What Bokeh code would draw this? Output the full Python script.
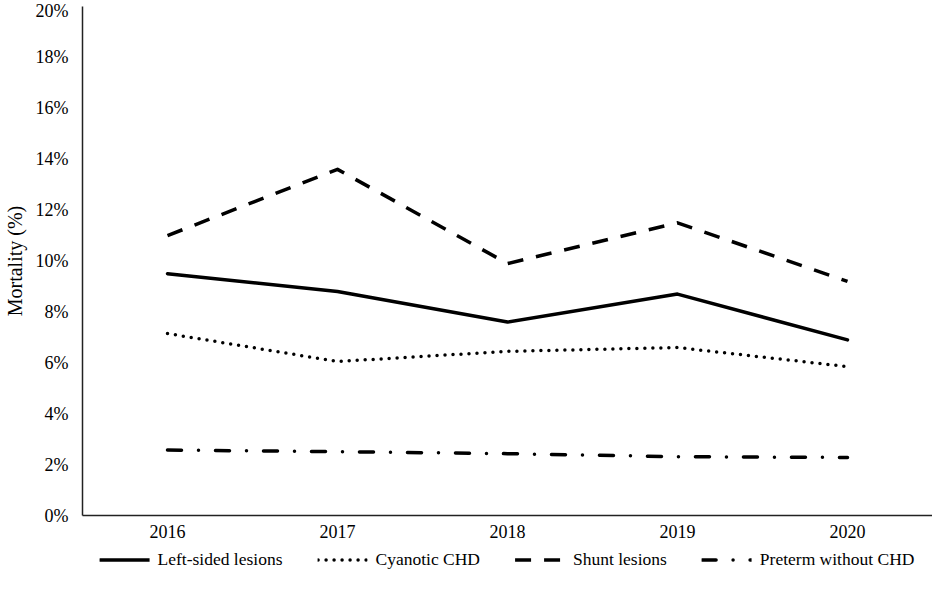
from bokeh.plotting import figure
from bokeh.layouts import column
from bokeh.models import (FixedTicker, PrintfTickFormatter, Range1d, Legend, LegendItem,
                          FactorRange)
from bokeh.embed import file_html
from bokeh.resources import INLINE

years = ["2016", "2017", "2018", "2019", "2020"]
left_sided = [9.5, 8.8, 7.6, 8.7, 6.9]
cyanotic = [7.15, 6.05, 6.45, 6.6, 5.85]
shunt = [11.0, 13.6, 9.9, 11.5, 9.2]
preterm = [2.57, 2.51, 2.43, 2.31, 2.28]
series_names = ["Left-sided lesions", "Cyanotic CHD", "Shunt lesions", "Preterm without CHD"]
y_ticks = [0, 2, 4, 6, 8, 10, 12, 14, 16, 18, 20]

FONT = "Liberation Serif"
series = [left_sided, cyanotic, shunt, preterm]
styles = [
    dict(line_dash="solid", line_cap="round"),
    dict(line_dash="0 8", line_cap="round"),
    dict(line_dash="16 13", line_cap="butt"),
    dict(line_dash="14 17 0 17", line_cap="round"),
]

p = figure(width=932, height=545, x_range=FactorRange(factors=years),
           y_range=Range1d(0, 20), output_backend="svg", toolbar_location=None,
           min_border_left=74, min_border_right=0, min_border_top=6,
           min_border_bottom=30)
p.outline_line_color = None
p.xgrid.visible = False
p.ygrid.visible = False

for vals, st in zip(series, styles):
    p.line(years, vals, line_color="black", line_width=3.5, line_join="round", **st)

p.yaxis.ticker = FixedTicker(ticks=y_ticks)
p.yaxis.formatter = PrintfTickFormatter(format="%d%%")
p.yaxis.axis_label = "Mortality (%)"
p.yaxis.axis_label_text_font = FONT
p.yaxis.axis_label_text_font_style = "normal"
p.yaxis.axis_label_text_font_size = "20px"
p.yaxis.axis_label_text_color = "black"
p.yaxis.axis_label_standoff = 7

for ax in (p.xaxis, p.yaxis):
    ax.major_label_text_font = FONT
    ax.major_label_text_font_size = "18px"
    ax.major_label_text_color = "black"
    ax.axis_line_color = "#222222"
    ax.axis_line_width = 1.5
    ax.major_tick_line_color = None
    ax.minor_tick_line_color = None
    ax.major_tick_out = 0
    ax.major_tick_in = 0

p.yaxis.major_label_standoff = 14
p.xaxis.major_label_standoff = 9

# Legend strip: same series drawn outside its visible range, legend only
lg = figure(width=932, height=28, x_range=FactorRange(factors=years),
            y_range=Range1d(100, 101), output_backend="svg", toolbar_location=None,
            x_axis_location=None, y_axis_location=None,
            min_border_left=0, min_border_right=0, min_border_top=0,
            min_border_bottom=0)
lg.outline_line_color = None
lg.xgrid.visible = False
lg.ygrid.visible = False
items = []
for name, vals, st in zip(series_names, series, styles):
    r = lg.line(years, vals, line_color="black", line_width=3.5, line_join="round", **st)
    items.append(LegendItem(label=name, renderers=[r]))

legend = Legend(items=items, orientation="horizontal", location="center")
legend.label_text_font = FONT
legend.label_text_font_size = "17.5px"
legend.label_text_color = "black"
legend.glyph_width = 50
legend.label_standoff = 8
legend.spacing = 35
legend.border_line_color = None
legend.background_fill_alpha = 0
legend.padding = 3
legend.margin = 0
lg.add_layout(legend, "center")

layout = column(p, lg, spacing=0)
open("out.html", "w").write(file_html(layout, INLINE))
